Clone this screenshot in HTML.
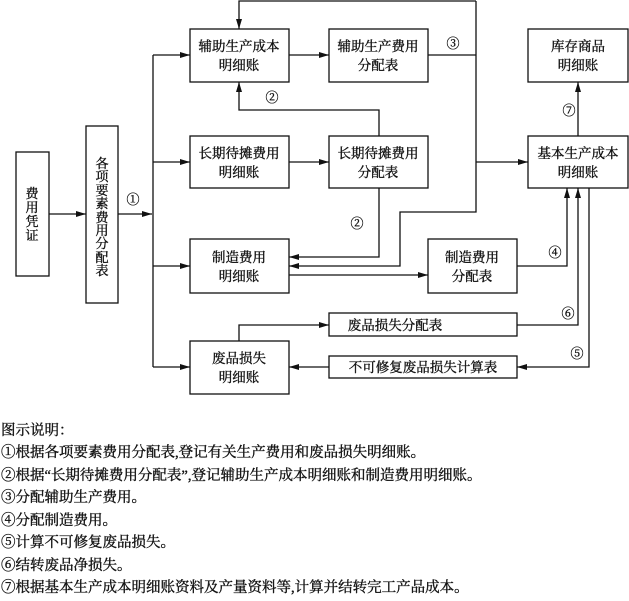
<!DOCTYPE html>
<html><head><meta charset="utf-8"><style>
body{margin:0;background:#fff;}
svg text{font-family:"Liberation Serif","Noto Serif CJK SC","Noto Sans CJK SC",serif;fill:#111;stroke:#111;stroke-width:0.35;}
</style></head><body>
<svg width="629" height="596" viewBox="0 0 629 596" xmlns="http://www.w3.org/2000/svg">
<defs><marker id="a" markerWidth="10" markerHeight="8" refX="10" refY="4" orient="auto" markerUnits="userSpaceOnUse"><path d="M0,1 L10,4 L0,7 Z" fill="#111"/></marker></defs>
<g stroke="#111" stroke-width="1.3" fill="none">
<rect x="16" y="152" width="33" height="124"/>
<rect x="86" y="126" width="32" height="177"/>
<rect x="190" y="29" width="99" height="53"/>
<rect x="190" y="136" width="99" height="52"/>
<rect x="190" y="239" width="99" height="54"/>
<rect x="190" y="341" width="99" height="53"/>
<rect x="329" y="29" width="99" height="53"/>
<rect x="329" y="136" width="99" height="52"/>
<rect x="428" y="239" width="89" height="54"/>
<rect x="528" y="29" width="100" height="53"/>
<rect x="528" y="136" width="100" height="52"/>
<rect x="329" y="313" width="188" height="23"/>
<rect x="329" y="356" width="188" height="22"/>
<g marker-end="url(#a)">
<line x1="49" y1="214" x2="86" y2="214"/>
<line x1="118" y1="214" x2="152" y2="214"/>
<path d="M153 55 H190"/>
<path d="M153 162 H190"/>
<path d="M153 266 H190"/>
<path d="M153 367 H190"/>
<path d="M289 55 H329"/>
<path d="M289 162 H329"/>
<path d="M476 1 H239 V29"/>
<path d="M476 162 H528"/>
<path d="M379 136 V110 H239 V82"/>
<path d="M379 188 V257 H289"/>
<path d="M476 162 V212 H400 V266 H289"/>
<path d="M289 275 H428"/>
<path d="M517 266 H567 V188"/>
<path d="M578 136 V82"/>
<path d="M239 341 V325 H329"/>
<path d="M517 325 H578 V188"/>
<path d="M589 188 V367 H517"/>
<path d="M329 367 H289"/>
</g>
<path d="M153 55 V367"/>
<path d="M428 55 H476 V162 M476 1 V55"/>
</g>
<g font-size="13.5" text-anchor="middle">
<text x="239" y="51">辅助生产成本</text><text x="239" y="70">明细账</text>
<text x="239" y="158">长期待摊费用</text><text x="239" y="177">明细账</text>
<text x="239" y="262">制造费用</text><text x="239" y="281">明细账</text>
<text x="239" y="363">废品损失</text><text x="239" y="382">明细账</text>
<text x="378" y="51">辅助生产费用</text><text x="378" y="70">分配表</text>
<text x="378" y="158">长期待摊费用</text><text x="378" y="177">分配表</text>
<text x="472" y="262">制造费用</text><text x="472" y="281">分配表</text>
<text x="578" y="51">库存商品</text><text x="578" y="70">明细账</text>
<text x="578" y="158">基本生产成本</text><text x="578" y="177">明细账</text>
<text x="395" y="330">废品损失分配表</text>
<text x="423" y="372">不可修复废品损失计算表</text>
</g>
<g font-size="13" text-anchor="middle">
<text x="32" y="198">费</text><text x="32" y="212">用</text><text x="32" y="226">凭</text><text x="32" y="240">证</text>
<text x="102" y="168">各</text><text x="102" y="181">项</text><text x="102" y="195">要</text><text x="102" y="208">素</text><text x="102" y="222">费</text><text x="102" y="235">用</text><text x="102" y="248">分</text><text x="102" y="262">配</text><text x="102" y="275">表</text>
<text x="133" y="204">①</text><text x="272" y="102">②</text><text x="357" y="228">②</text>
<text x="453" y="48">③</text><text x="555" y="257">④</text><text x="577" y="358">⑤</text>
<text x="568" y="318">⑥</text><text x="569" y="115">⑦</text>
</g>
<g font-size="14.5">
<text x="1" y="435">图示说明：</text>
<text x="1" y="457">①根据各项要素费用分配表,登记有关生产费用和废品损失明细账。</text>
<text x="1" y="480">②根据“长期待摊费用分配表”,登记辅助生产成本明细账和制造费用明细账。</text>
<text x="1" y="502">③分配辅助生产费用。</text>
<text x="1" y="525">④分配制造费用。</text>
<text x="1" y="547">⑤计算不可修复废品损失。</text>
<text x="1" y="570">⑥结转废品净损失。</text>
<text x="1" y="592">⑦根据基本生产成本明细账资料及产量资料等,计算并结转完工产品成本。</text>
</g>
</svg>
</body></html>
